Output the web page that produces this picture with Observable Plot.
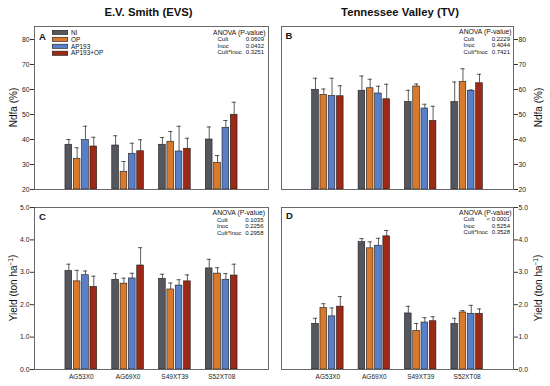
<!DOCTYPE html>
<html><head><meta charset="utf-8">
<script src="https://cdn.jsdelivr.net/npm/d3@7"></script>
<script src="https://cdn.jsdelivr.net/npm/@observablehq/plot@0.6"></script>
<style>
body{margin:0;background:#fff;}
#fig{position:relative;width:550px;height:386px;font-family:Arial,"Liberation Sans",sans-serif;}
#fig svg{position:absolute;overflow:visible;}
</style></head><body><div id="fig"></div>
<script>
// ---- data ----
const cultivars = ["AG53X0", "AG69X0", "S49XT39", "S52XT08"];
const treatments = ["NI", "OP", "AP193", "AP193+OP"];
const colors = ["#54575e", "#d8792c", "#5b7fc6", "#9c2816"];

// Ndfa (%), E.V. Smith: rows = treatments, cols = cultivars
const evsNdfaMean = [[37.9, 37.6, 37.9, 40.0], [32.3, 27.1, 39.1, 30.7], [39.8, 34.3, 35.2, 44.7], [37.2, 35.3, 36.3, 49.9]];
const evsNdfaSE   = [[2.1, 3.9, 2.9, 5.0], [4.4, 4.1, 4.1, 2.9], [5.5, 4.2, 10.1, 2.9], [3.7, 4.6, 4.2, 5.0]];
// Ndfa (%), Tennessee Valley
const tvNdfaMean = [[59.9, 59.5, 55.0, 55.0], [57.8, 60.5, 61.2, 63.0], [57.4, 58.4, 52.4, 59.5], [57.3, 56.1, 47.4, 62.5]];
const tvNdfaSE   = [[4.6, 5.9, 4.7, 8.0], [2.4, 3.6, 1.0, 5.3], [7.1, 2.9, 1.7, 0.3], [4.2, 6.0, 5.9, 3.6]];
// Yield (ton/ha), E.V. Smith
const evsYieldMean = [[3.04, 2.77, 2.80, 3.12], [2.72, 2.65, 2.47, 2.96], [2.91, 2.81, 2.59, 2.77], [2.55, 3.21, 2.72, 2.90]];
const evsYieldSE   = [[0.21, 0.19, 0.14, 0.28], [0.34, 0.17, 0.20, 0.18], [0.13, 0.16, 0.18, 0.19], [0.33, 0.55, 0.20, 0.35]];
// Yield (ton/ha), Tennessee Valley
const tvYieldMean = [[1.41, 3.93, 1.73, 1.41], [1.90, 3.74, 1.19, 1.76], [1.64, 3.82, 1.45, 1.72], [1.94, 4.11, 1.49, 1.72]];
const tvYieldSE   = [[0.17, 0.11, 0.22, 0.17], [0.13, 0.20, 0.23, 0.06], [0.26, 0.23, 0.15, 0.26], [0.31, 0.18, 0.14, 0.15]];

const ndfaTicks = [20, 30, 40, 50, 60, 70, 80];
const yieldTicks = [0, 1, 2, 3, 4, 5];
const anovaTerms = ["Cult", "Inoc", "Cult*Inoc"];
const anovaA = ["0.0609", "0.0432", "0.3251"];
const anovaB = ["0.2229", "0.4044", "0.7421"];
const anovaC = ["0.1035", "0.2256", "0.2958"];
const anovaD = ["< 0.0001", "0.5254", "0.3528"];

// ---- layout ----
const PITCH = 0.178, BW = 0.143, CAP = 0.045;
const FONT = "Arial, 'Liberation Sans', sans-serif";
const fig = document.getElementById("fig");

function rows(mean, se) {
  return treatments.flatMap((t, ti) => cultivars.map((c, ci) => ({
    cult: c, trt: t, ti, c: ci + 1 + (ti - 1.5) * PITCH, v: mean[ti][ci], e: mean[ti][ci] + se[ti][ci]
  })));
}

function panel({mean, se, yDomain, yTicks, base, left, top, width, height, mt, mr, mb, ml, yAnchor, showX}) {
  const data = rows(mean, se);
  const marks = [
    Plot.rect(data, {x1: d => d.c - BW / 2, x2: d => d.c + BW / 2, y1: () => base, y2: "v",
      fill: d => colors[d.ti], stroke: "#1a1a1a", strokeWidth: 0.6}),
    Plot.ruleX(data, {x: "c", y1: "v", y2: "e", stroke: "#333", strokeWidth: 0.8}),
    Plot.ruleY(data, {y: "e", x1: d => d.c - CAP, x2: d => d.c + CAP, stroke: "#333", strokeWidth: 0.8}),
    Plot.frame({stroke: "#5a5a5a", strokeWidth: 0.9}),
    Plot.axisY({anchor: yAnchor, ticks: yTicks, tickSize: 4, tickPadding: 1, label: null, fontSize: 6.8, stroke: "#333"})
  ];
  if (showX) marks.push(Plot.axisX({ticks: [1, 2, 3, 4], tickFormat: i => cultivars[i - 1], tickSize: 0, tickPadding: 4.5, label: null, fontSize: 6.5}));
  const svg = Plot.plot({
    width, height, marginTop: mt, marginRight: mr, marginBottom: mb, marginLeft: ml,
    x: {domain: [0, 5], axis: showX ? undefined : null},
    y: {domain: yDomain},
    style: {fontFamily: FONT, fontSize: "6.8px", color: "#222", background: "transparent", overflow: "visible"},
    marks
  });
  svg.style.left = left + "px";
  svg.style.top = top + "px";
  fig.appendChild(svg);
}

panel({mean: evsNdfaMean, se: evsNdfaSE, yDomain: [20, 85.2], yTicks: ndfaTicks, base: 20,
  left: 0, top: 0, width: 275, height: 195, mt: 26, mr: 7, mb: 6, ml: 34, yAnchor: "left", showX: false});
panel({mean: tvNdfaMean, se: tvNdfaSE, yDomain: [20, 85.2], yTicks: ndfaTicks, base: 20,
  left: 275, top: 0, width: 275, height: 195, mt: 26, mr: 37, mb: 6, ml: 6, yAnchor: "right", showX: false});
panel({mean: evsYieldMean, se: evsYieldSE, yDomain: [0, 5], yTicks: yieldTicks, base: 0,
  left: 0, top: 195, width: 275, height: 191, mt: 12, mr: 7, mb: 17, ml: 34, yAnchor: "left", showX: true});
panel({mean: tvYieldMean, se: tvYieldSE, yDomain: [0, 5], yTicks: yieldTicks, base: 0,
  left: 275, top: 195, width: 275, height: 191, mt: 12, mr: 37, mb: 17, ml: 6, yAnchor: "right", showX: true});

// ---- annotations overlay ----
const ov = d3.select(fig).append("svg").attr("width", 550).attr("height", 386)
  .style("left", "0px").style("top", "0px").style("pointer-events", "none")
  .attr("font-family", FONT).attr("fill", "#111");

ov.append("text").attr("x", 148.5).attr("y", 15.5).attr("text-anchor", "middle")
  .attr("font-size", 11.3).attr("font-weight", "bold").text("E.V. Smith (EVS)");
ov.append("text").attr("x", 400).attr("y", 15.5).attr("text-anchor", "middle")
  .attr("font-size", 11.3).attr("font-weight", "bold").text("Tennessee Valley (TV)");

function ytitle(x, y, kind) {
  const t = ov.append("text").attr("transform", `translate(${x},${y}) rotate(-90)`)
    .attr("text-anchor", "middle").attr("dy", "0.35em").attr("font-size", 10);
  if (kind === "ndfa") t.text("Ndfa (%)");
  else {
    t.append("tspan").text("Yield (ton ha");
    t.append("tspan").attr("font-size", 6.5).attr("dy", "-0.55em").text("\u22121");
    t.append("tspan").attr("dy", "0.35em").text(")");
  }
}
ytitle(13, 107.5, "ndfa");
ytitle(538, 107.5, "ndfa");
ytitle(13, 288, "yield");
ytitle(538, 288, "yield");

[["A", 39, 39.5], ["B", 285.5, 39], ["C", 39, 220], ["D", 286, 219]].forEach(([s, x, y]) =>
  ov.append("text").attr("x", x).attr("y", y).attr("font-size", 9.5).attr("font-weight", "bold").text(s));

// legend (panel A)
treatments.forEach((t, i) => {
  const cy = 32.4 + i * 6.95;
  ov.append("rect").attr("x", 52.3).attr("y", cy - 2.1).attr("width", 15.4).attr("height", 4.2)
    .attr("fill", colors[i]).attr("stroke", "#1a1a1a").attr("stroke-width", 0.6);
  ov.append("text").attr("x", 71).attr("y", cy).attr("dy", "0.35em").attr("font-size", 6.4).text(t);
});

function anova(vals, Rh, y0) {
  ov.append("text").attr("x", Rh).attr("y", y0).attr("dy", "0.35em").attr("text-anchor", "end")
    .attr("font-size", 6.8).text("ANOVA (P-value)");
  anovaTerms.forEach((t, i) => {
    const y = y0 + 6.6 * (i + 1);
    ov.append("text").attr("x", Rh - 48).attr("y", y).attr("dy", "0.35em").attr("font-size", 6).text(t);
    ov.append("text").attr("x", Rh - 1.5).attr("y", y).attr("dy", "0.35em").attr("text-anchor", "end").attr("font-size", 6).text(vals[i]);
  });
}
anova(anovaA, 265.5, 32.4);
anova(anovaB, 511.5, 31.8);
anova(anovaC, 265, 213);
anova(anovaD, 511.5, 212.5);
</script></body></html>
